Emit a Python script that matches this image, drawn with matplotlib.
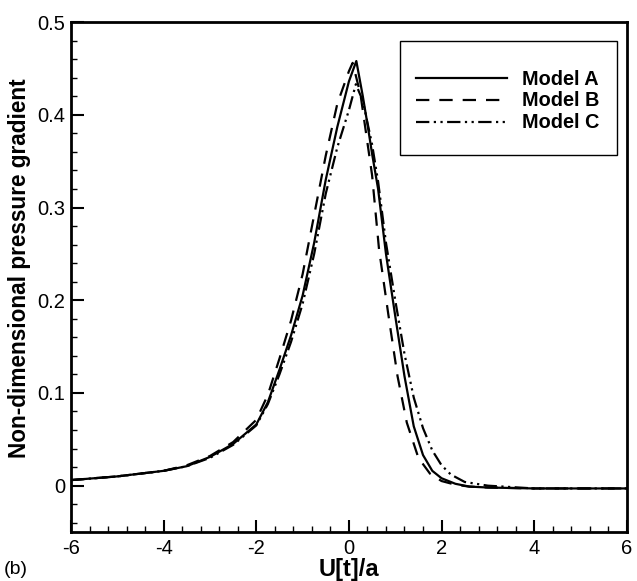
import matplotlib
matplotlib.use('Agg')
import matplotlib.pyplot as plt
from matplotlib.patches import Rectangle
from matplotlib.ticker import MultipleLocator

plt.rcParams['font.family'] = ['Liberation Sans', 'DejaVu Sans']

# Model A (solid)
xa = [-6.0, -5.0, -4.0, -3.5, -3.0, -2.5, -2.0, -1.75, -1.5, -1.25, -1.0, -0.75, -0.5, -0.25,
      0.0, 0.16, 0.3, 0.4, 0.5, 0.63, 0.8, 1.0, 1.2, 1.4, 1.6, 1.8, 2.0, 2.3, 2.6, 3.0, 4.0, 6.0]
ya = [0.006, 0.010, 0.016, 0.021, 0.031, 0.045, 0.066, 0.090, 0.125, 0.162, 0.205, 0.262, 0.330, 0.387,
      0.436, 0.458, 0.420, 0.390, 0.358, 0.320, 0.250, 0.183, 0.118, 0.064, 0.033, 0.016, 0.008, 0.002, -0.001, -0.002, -0.003, -0.003]

# Model B (dashed)
xb = [-6.0, -5.0, -4.0, -3.5, -3.0, -2.5, -2.0, -1.75, -1.5, -1.25, -1.0, -0.75, -0.5, -0.25,
      0.0, 0.08, 0.25, 0.5, 0.65, 0.85, 1.05, 1.25, 1.5, 1.75, 2.0, 2.3, 2.6, 3.0, 4.0, 6.0]
yb = [0.006, 0.010, 0.016, 0.022, 0.032, 0.047, 0.071, 0.098, 0.137, 0.178, 0.228, 0.292, 0.356, 0.412,
      0.447, 0.456, 0.422, 0.335, 0.255, 0.185, 0.118, 0.068, 0.030, 0.013, 0.005, 0.001, -0.001, -0.002, -0.003, -0.003]

# Model C (dash-dot-dot)
xc = [-6.0, -5.0, -4.0, -3.5, -3.0, -2.5, -2.0, -1.75, -1.5, -1.25, -1.0, -0.75, -0.5, -0.25,
      0.0, 0.15, 0.3, 0.5, 0.63, 0.8, 1.0, 1.2, 1.4, 1.6, 1.8, 2.0, 2.2, 2.5, 3.0, 4.0, 6.0]
yc = [0.006, 0.010, 0.016, 0.021, 0.030, 0.044, 0.065, 0.088, 0.120, 0.155, 0.196, 0.250, 0.315, 0.365,
      0.405, 0.433, 0.415, 0.368, 0.328, 0.262, 0.200, 0.142, 0.095, 0.062, 0.038, 0.022, 0.012, 0.004, 0.000, -0.003, -0.003]

fig = plt.figure(figsize=(6.37, 5.81), dpi=100)
ax = fig.add_axes([0.1115, 0.0843, 0.8725, 0.8777])

ax.plot(xa, ya, color='black', lw=1.6, label='Model A')
ax.plot(xb, yb, color='black', lw=1.6, dashes=(6, 4.5), label='Model B')
ax.plot(xc, yc, color='black', lw=1.6, dashes=(6, 2, 1, 2, 1, 2), label='Model C')

ax.set_xlim(-6, 6)
ax.set_ylim(-0.05, 0.5)
ax.xaxis.set_major_locator(MultipleLocator(2))
ax.xaxis.set_minor_locator(MultipleLocator(0.4))
ax.yaxis.set_major_locator(MultipleLocator(0.1))
ax.yaxis.set_minor_locator(MultipleLocator(0.02))
ax.tick_params(which='both', direction='in', top=False, right=False, width=1.5, labelsize=14.5)
ax.tick_params(which='major', length=9)
ax.tick_params(which='minor', length=4.5, width=1)
ax.tick_params(axis='x', pad=5)
ax.tick_params(axis='y', pad=4)
ax.yaxis.set_major_formatter(plt.FuncFormatter(lambda v, p: '0' if abs(v) < 1e-9 else f'{v:.1f}'))
ax.xaxis.set_major_formatter(plt.FuncFormatter(lambda v, p: f'{v:.0f}'))
for s in ax.spines.values():
    s.set_linewidth(2)

ax.set_xlabel('U[t]/a', fontsize=17, fontweight='bold', labelpad=0)
ax.set_ylabel('Non-dimensional pressure gradient', fontsize=16.3, fontweight='bold')
ax.yaxis.set_label_coords(-0.072, 0.518)
fig.text(0.006, 0.012, '(b)', fontsize=14)

# legend box drawn separately, legend entries without frame
ax.add_patch(Rectangle((0.592, 0.739), 0.39, 0.224, transform=ax.transAxes,
                       fill=False, edgecolor='black', lw=1.0, zorder=4))
leg = ax.legend(loc='upper left', bbox_to_anchor=(0.6205, 0.907), fontsize=14.3, handlelength=4.6,
                frameon=False, borderpad=0, borderaxespad=0, labelspacing=0.15,
                handletextpad=0.74)
for t in leg.get_texts():
    t.set_fontweight('bold')

fig.savefig('out.png', dpi=100)
